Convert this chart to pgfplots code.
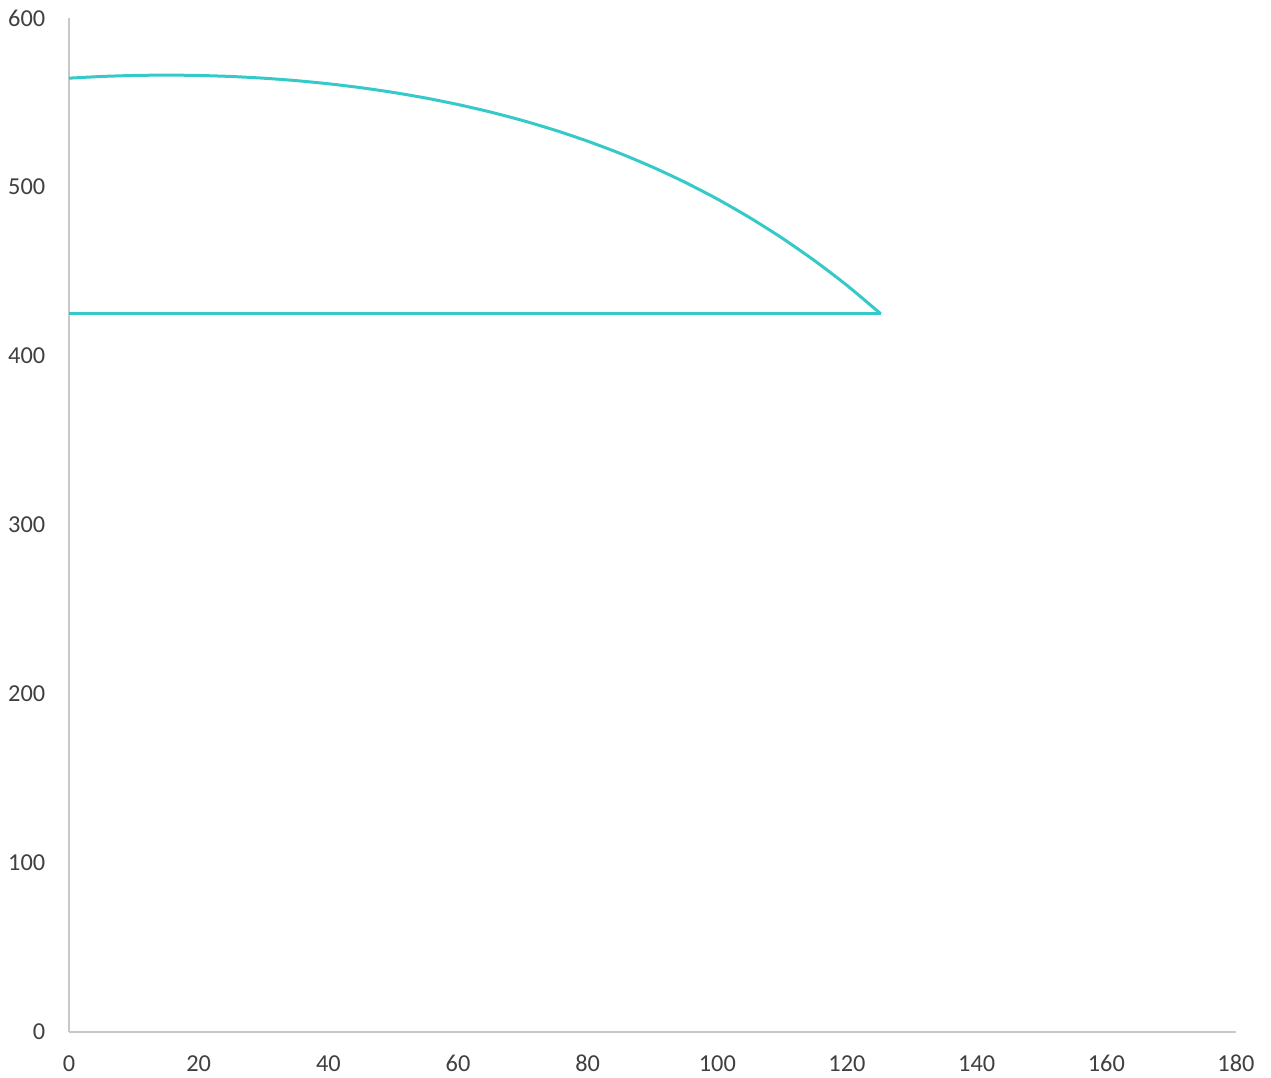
\documentclass[border=0pt]{standalone}
\usepackage{pgfplots}
\pgfplotsset{compat=1.18}
\usepackage{fontspec}
\setmainfont{Carlito}
\definecolor{teal1}{RGB}{54,201,201}
\definecolor{ticktext}{RGB}{64,64,64}
\definecolor{axisgray}{RGB}{200,200,200}
\begin{document}
\begin{tikzpicture}
\useasboundingbox (-20.7pt,-13.8pt) rectangle (360.6pt,309.6pt);
\begin{axis}[
  at={(0pt,0pt)}, anchor=south west,
  scale only axis,
  width=350.1pt, height=304.2pt,
  xmin=0, xmax=180, ymin=0, ymax=600,
  xtick={0,20,...,180}, ytick={0,100,...,600},
  axis x line*=bottom, axis y line*=left,
  axis line style={draw=axisgray, line width=0.4pt, -},
  major tick length=0pt,
  tick label style={font=\fontsize{7.3}{9}\selectfont, text=ticktext},
  /pgf/number format/assume math mode=true,
  xticklabel style={yshift=-3.4pt, text height=5pt, text depth=0pt},
  yticklabel style={xshift=-3.6pt},
  clip=false,
]
\addplot[teal1, line width=0.9pt, smooth, tension=0.4] coordinates {
 (0,564.39) (5,565.40) (10,566.00) (15,566.20) (20,566.00) (25,565.40)
 (30,564.39) (35,562.96) (40,561.09) (45,558.77) (50,555.97) (55,552.66)
 (60,548.80) (65,544.37) (70,539.31) (75,533.57) (80,527.11) (85,519.88)
 (90,511.80) (95,502.83) (100,492.88) (105,481.87) (110,469.75) (115,456.40)
 (120,441.77) (125.2,425.0)
};
\addplot[teal1, line width=0.9pt] coordinates {(125.2,425) (0,425)};
\end{axis}
\end{tikzpicture}
\end{document}
